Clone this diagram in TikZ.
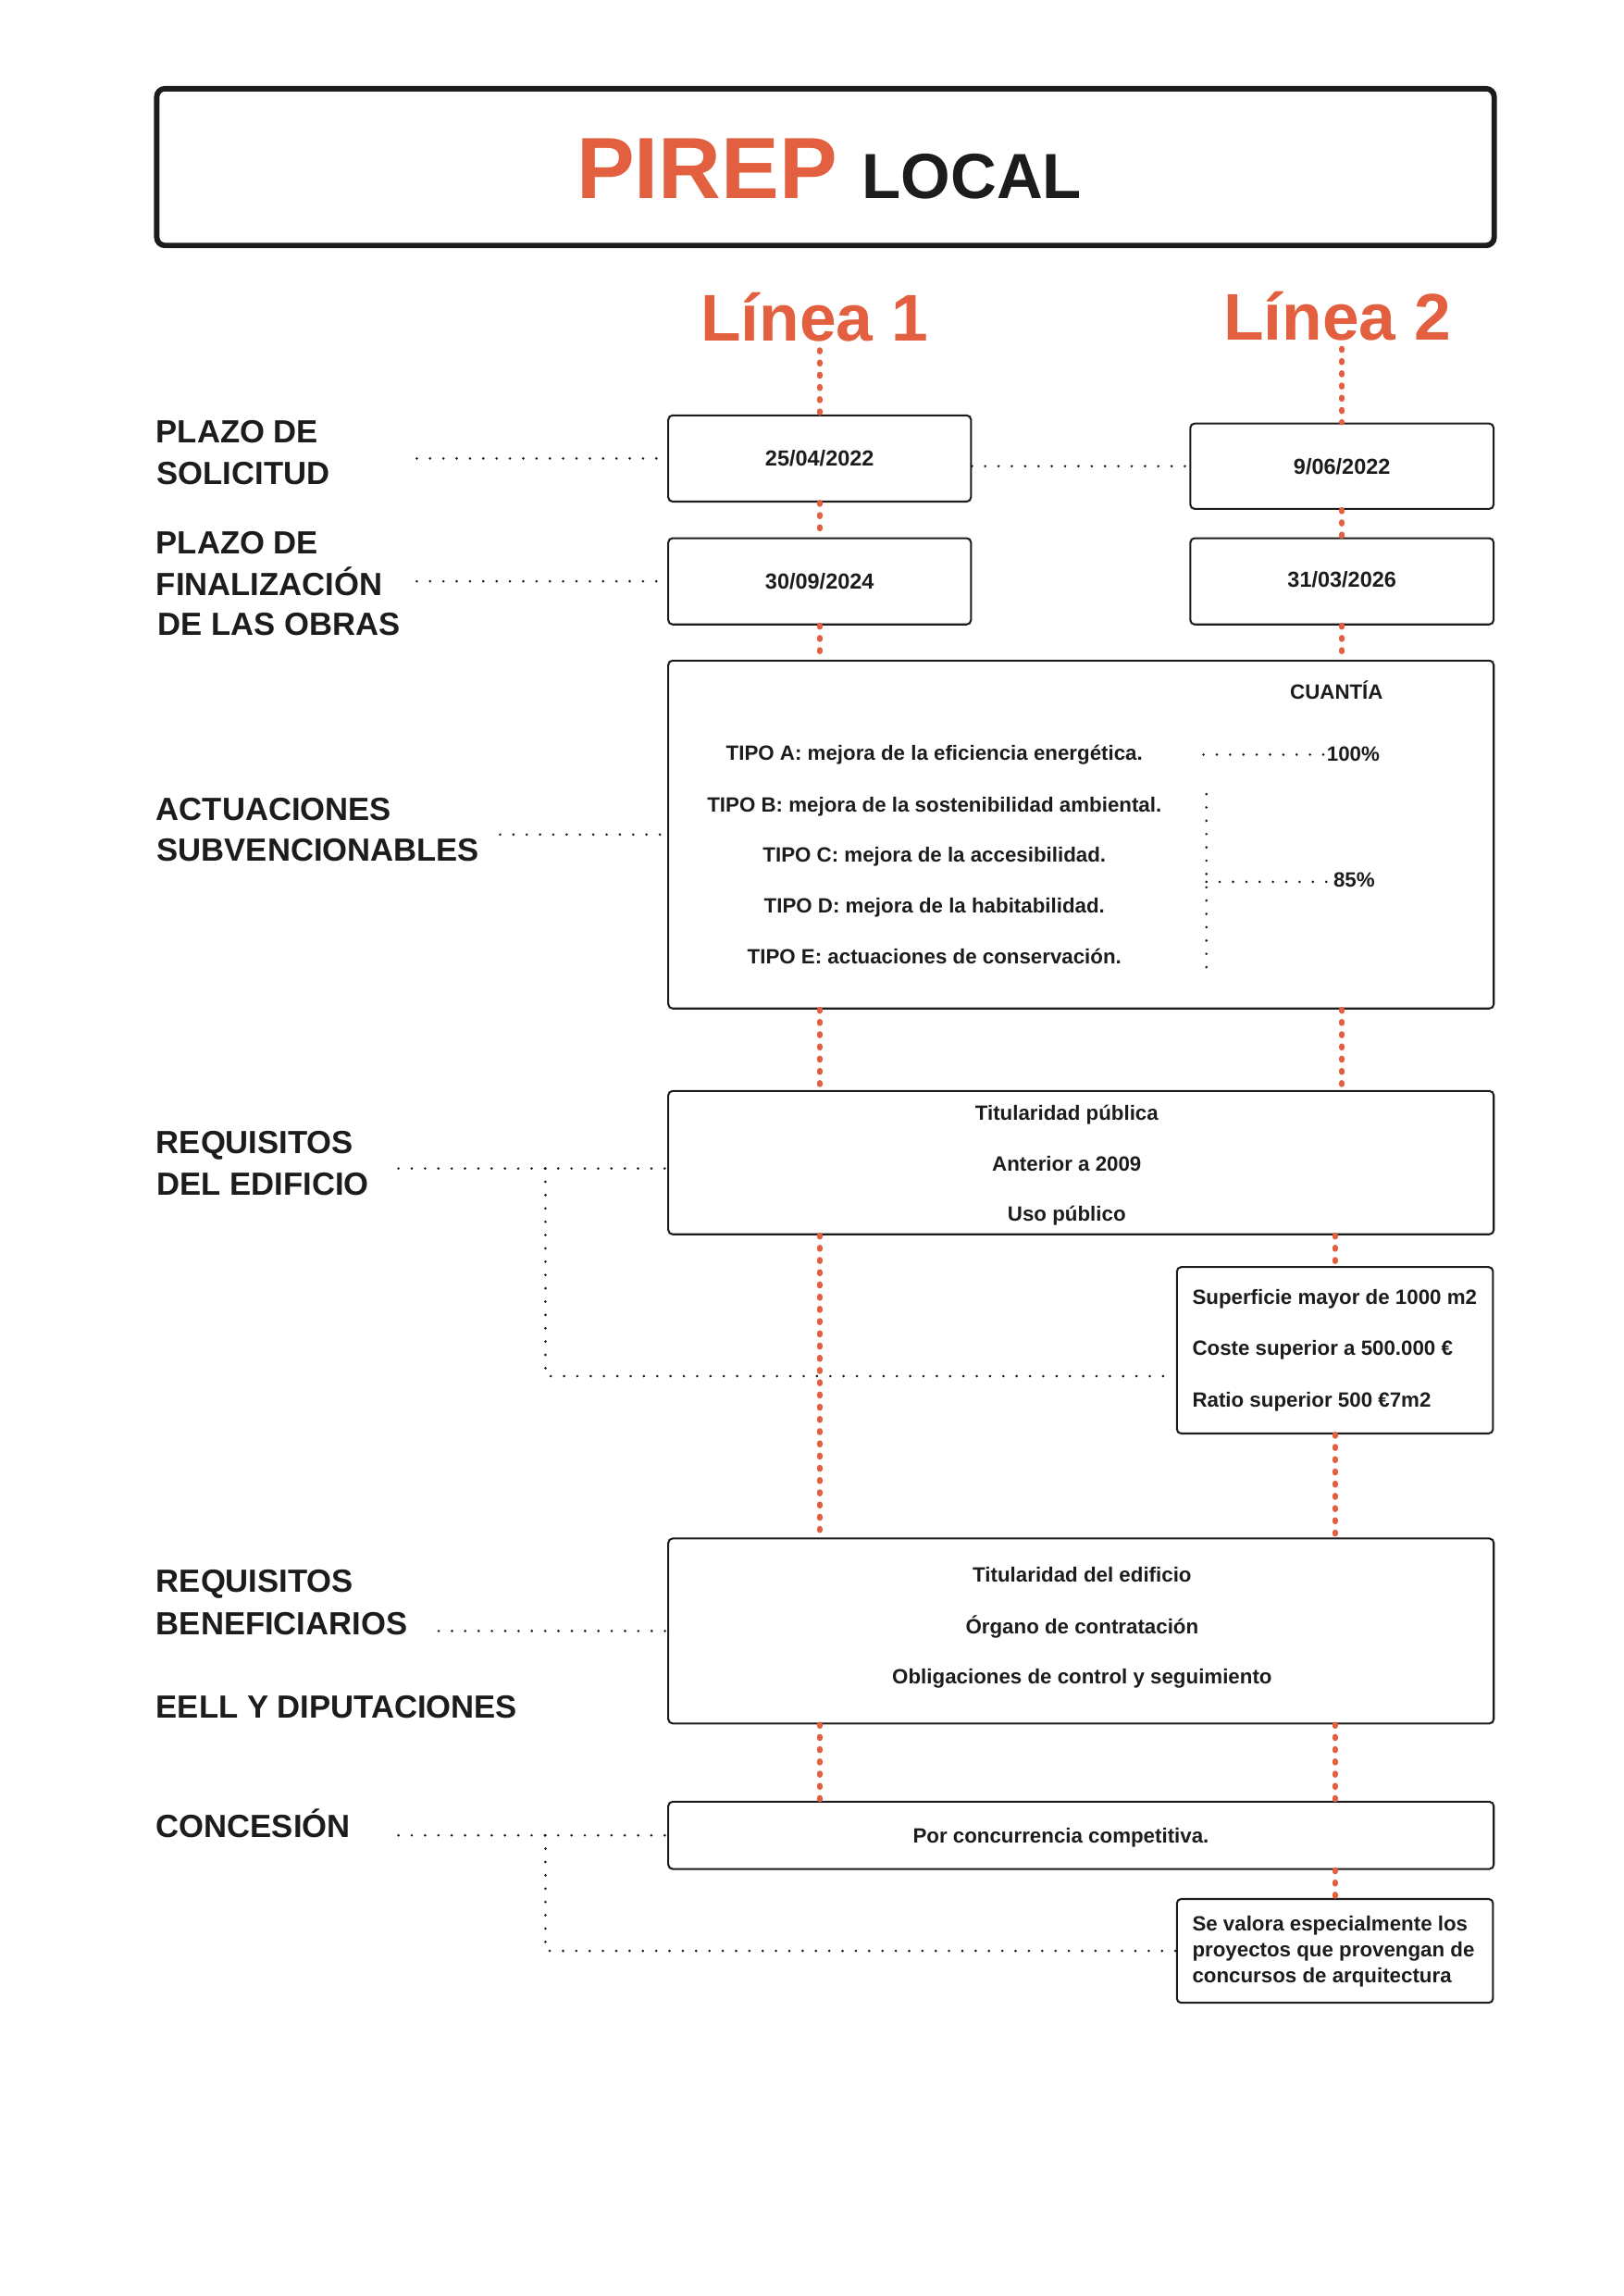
\documentclass[tikz,border=0pt]{standalone}
\usepackage{fontspec}
\setmainfont{Liberation Sans}
\definecolor{pirep}{RGB}{226,96,63}
\definecolor{ink}{RGB}{28,28,28}
\newlength\pxu
\setlength\pxu{0.189189mm}
\newcommand\boxfont{\bfseries\fontsize{7.6}{9}\selectfont}
\newcommand\datefont{\bfseries\fontsize{8}{9.5}\selectfont}
\newcommand\labfont{\bfseries\fontsize{11.8}{14}\selectfont}
\tikzset{
  box/.style={draw=ink, line width=0.7pt, rounded corners=1.6pt, inner sep=0pt, text=ink, font=\datefont},
  txt/.style={inner sep=0pt, text=ink, font=\boxfont, anchor=base},
  ltxt/.style={inner sep=0pt, text=ink, font=\boxfont, anchor=base west},
  lab/.style={inner sep=0pt, text=ink, font=\labfont, anchor=base west},
  blk/.style={draw=ink, line width=1pt, line cap=round, dash pattern=on 0pt off 4.9pt},
  org/.style={draw=pirep, line width=2pt, line cap=round, dash pattern=on 0.6pt off 3.9pt},
  linea/.style={inner sep=0pt, text=pirep, font=\bfseries\fontsize{24.3}{28}\selectfont, anchor=base},
}
\begin{document}
\begin{tikzpicture}[x=\pxu, y=-\pxu]
\useasboundingbox (0,0) rectangle (1110,1570);

% ---------- title ----------
\node[draw=ink, line width=2pt, rounded corners=3pt, inner sep=0pt,
      minimum width=914.6*\pxu, minimum height=107.2*\pxu] (tbox) at (564.5,114.25) {};
\node[inner sep=0pt, anchor=base, font=\bfseries] (title) at (567,136)
  {{\color{pirep}\fontsize{32}{36}\selectfont PIREP}\hspace{9pt}{\color{ink}\fontsize{23.5}{28}\selectfont LOCAL}};

\node[linea] (l1) at (557,233.5) {Línea 1};
\node[linea] (l2) at (914.5,232.5) {Línea 2};

% ---------- boxes ----------
\node[box, minimum width=207*\pxu, minimum height=59*\pxu] (d1) at (560.5,313.5) {25/04/2022};
\node[box, minimum width=207.4*\pxu, minimum height=58.4*\pxu] (d2) at (917.7,318.8) {9/06/2022};
\node[box, minimum width=207*\pxu, minimum height=59*\pxu] (d3) at (560.5,397.5) {30/09/2024};
\node[box, minimum width=207.4*\pxu, minimum height=59*\pxu] (d4) at (917.7,397.5) {\raisebox{2.5\pxu}{31/03/2026}};
\node[box, minimum width=564.5*\pxu, minimum height=237.9*\pxu] (act) at (739.25,570.65) {};
\node[box, minimum width=564.5*\pxu, minimum height=98*\pxu] (req) at (739.25,795) {};
\node[box, minimum width=216.2*\pxu, minimum height=113.8*\pxu] (sup) at (912.9,923.3) {};
\node[box, minimum width=564.5*\pxu, minimum height=126.5*\pxu] (ben) at (739.25,1115.25) {};
\node[box, minimum width=564.5*\pxu, minimum height=46*\pxu] (con) at (739.25,1255) {};
\node[box, minimum width=216.2*\pxu, minimum height=71*\pxu] (sev) at (912.9,1334) {};

% ---------- box texts ----------
\node[txt] (cuantia) at (914,478) {CUANTÍA};
\node[txt] (tA) at (639,520) {TIPO A: mejora de la eficiencia energética.};
\node[txt] (tB) at (639,555) {TIPO B: mejora de la sostenibilidad ambiental.};
\node[txt] (tC) at (639,589.5) {TIPO C: mejora de la accesibilidad.};
\node[txt] (tD) at (639,624) {TIPO D: mejora de la habitabilidad.};
\node[txt] (tE) at (639,659) {TIPO E: actuaciones de conservación.};
\node[ltxt] (p100) at (907,520.5) {100\%};
\node[ltxt] (p85) at (911.5,606.5) {85\%};

\node[txt] (r1) at (729.5,766) {Titularidad pública};
\node[txt] (r2) at (729.5,801) {Anterior a 2009};
\node[txt] (r3) at (729.5,835) {Uso público};

\node[ltxt] (s1) at (815,892) {Superficie mayor de 1000 m2};
\node[ltxt] (s2) at (815,927) {Coste superior a 500.000 €};
\node[ltxt] (s3) at (815,962) {Ratio superior 500 €7m2};

\node[txt] (b1) at (740,1082) {Titularidad del edificio};
\node[txt] (b2) at (740,1117) {Órgano de contratación};
\node[txt] (b3) at (740,1151.5) {Obligaciones de control y seguimiento};

\node[txt] (c1) at (725.5,1260) {Por concurrencia competitiva.};

\node[ltxt] (v1t) at (815,1320.5) {Se valora especialmente los};
\node[ltxt] (v2t) at (815,1338) {proyectos que provengan de};
\node[ltxt] (v3t) at (815,1355.5) {concursos de arquitectura};

% ---------- left labels ----------
\node[lab] (lb1a) at (106.5,303) {PLAZO DE};
\node[lab] (lb1b) at (107,331.5) {SOLICITUD};
\node[lab] (lb2a) at (106.5,378.5) {PLAZO DE};
\node[lab] (lb2b) at (106.5,407) {FINALIZACIÓN};
\node[lab] (lb2c) at (107.5,434.6) {DE LAS OBRAS};
\node[lab] (lb3a) at (106.5,561) {ACTUACIONES};
\node[lab] (lb3b) at (107,589) {SUBVENCIONABLES};
\node[lab] (lb4a) at (106.5,788.5) {REQUISITOS};
\node[lab] (lb4b) at (107,817) {DEL EDIFICIO};
\node[lab] (lb5a) at (106.5,1089) {REQUISITOS};
\node[lab] (lb5b) at (106.5,1118) {BENEFICIARIOS};
\node[lab] (lb6) at (106.5,1175) {EELL Y DIPUTACIONES};
\node[lab] (lb7) at (106.5,1256.5) {CONCESIÓN};

% ---------- black dotted connectors ----------
\coordinate (a1) at (285,313.5);
\coordinate (a2) at (285,397.5);
\coordinate (a3) at (342,570.65);
\coordinate (a4) at (272.5,799);
\coordinate (k1) at (373,799);
\coordinate (k1b) at (373,941);
\coordinate (a5) at (300,1115.25);
\coordinate (a6) at (272.5,1255);
\coordinate (k2) at (373,1255);
\draw[blk] (a1) -- (d1.west);
\draw[blk] (d1.east |- d2.west) -- (d2.west);
\draw[blk] (a2) -- (d3.west);
\draw[blk] (a3) -- (act.west);
\draw[blk] (a4) -- (a4 -| req.west);
\draw[blk] (k1) -- (k1b) -- (k1b -| sup.west);
\draw[blk] (a5) -- (ben.west);
\draw[blk] (a6) -- (con.west);
\draw[blk] (k2) |- (sev.west);

% inside Actuaciones
\coordinate (q1) at (823,516);
\coordinate (q2) at (825,543);
\coordinate (q3) at (825,663);
\coordinate (q4) at (825,603);
\draw[blk, shorten >=1pt] (q1) -- (q1 -| p100.west);
\draw[blk] (q2) -- (q3);
\draw[blk, shorten >=2pt] (q4) -- (q4 -| p85.west);

% ---------- orange dotted lines ----------
\draw[org, shorten <=2.7pt] (l1.south -| d1.north) -- (d1.north);
\draw[org] (d1.south) -- (d3.north);
\draw[org] (d3.south) -- (d3.south |- act.north);
\draw[org] (act.south -| d3.south) -- (req.north -| d3.south);
\draw[org] (req.south -| d3.south) -- (ben.north -| d3.south);
\draw[org] (ben.south -| d3.south) -- (con.north -| d3.south);

\draw[org, shorten <=2.7pt] (l2.south -| d2.north) -- (d2.north);
\draw[org] (d2.south) -- (d4.north);
\draw[org] (d4.south) -- (d4.south |- act.north);
\draw[org] (act.south -| d4.south) -- (req.north -| d4.south);
\draw[org] (req.south -| sup.north) -- (sup.north);
\draw[org] (sup.south) -- (ben.north -| sup.south);
\draw[org] (ben.south -| sup.south) -- (con.north -| sup.south);
\draw[org] (con.south -| sev.north) -- (sev.north);
\end{tikzpicture}
\end{document}
